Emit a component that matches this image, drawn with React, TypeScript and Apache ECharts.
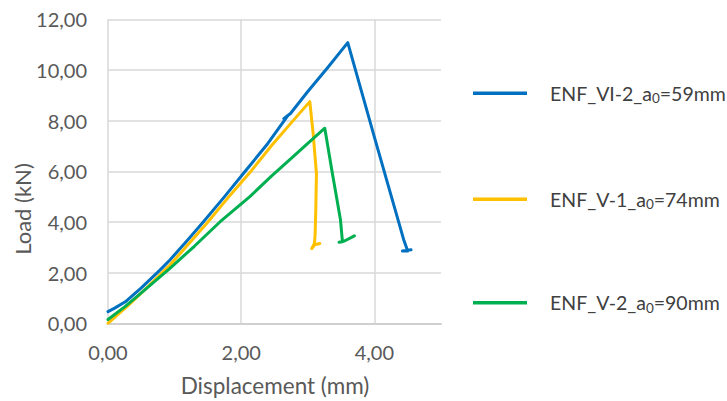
import React, { useEffect, useRef } from "react";
import * as echarts from "echarts";

const seriesNames = ["ENF_VI-2_a0=59mm", "ENF_V-1_a0=74mm", "ENF_V-2_a0=90mm"];
const legendParts = [
  ["ENF_VI-2_a", "0", "=59mm"],
  ["ENF_V-1_a", "0", "=74mm"],
  ["ENF_V-2_a", "0", "=90mm"],
];
const seriesColors = ["#0070C0", "#FFC000", "#00B050"];

const enfVI2 = [
  [0, 0.46], [0.1, 0.6], [0.26, 0.85], [0.5, 1.4], [0.78, 2.1], [0.93, 2.5],
  [1.2, 3.3], [1.43, 4.0], [1.75, 5.0], [2.06, 6.0], [2.4, 7.1], [2.7, 8.2],
  [2.64, 8.08], [2.74, 8.28], [3.0, 9.15], [3.3, 10.1], [3.6, 11.08],
  [4.0, 7.35], [4.44, 3.3], [4.5, 2.85], [4.42, 2.85], [4.55, 2.9],
];
const enfV1 = [
  [0, 0.0], [0.15, 0.35], [0.3, 0.7], [0.6, 1.45], [0.93, 2.3], [1.2, 3.1],
  [1.5, 4.0], [1.8, 4.95], [2.13, 5.95], [2.45, 7.0], [2.78, 8.0],
  [3.03, 8.75], [3.08, 7.5], [3.13, 5.9], [3.12, 4.5], [3.11, 3.5],
  [3.1, 3.15], [3.06, 2.95], [3.1, 3.1], [3.18, 3.15],
];
const enfV2 = [
  [0, 0.15], [0.25, 0.65], [0.5, 1.2], [0.93, 2.17], [1.3, 3.05], [1.68, 4.0],
  [2.13, 5.0], [2.45, 5.8], [2.78, 6.58], [3.0, 7.1], [3.255, 7.7],
  [3.37, 5.9], [3.49, 4.1], [3.52, 3.22], [3.47, 3.2], [3.55, 3.25],
  [3.7, 3.45],
];
const seriesData = [enfVI2, enfV1, enfV2];

const xTitle = "Displacement (mm)";
const yTitle = "Load (kN)";

const FONT = "Lato";
const fmt = (v: number) => v.toFixed(2).replace(".", ",");

export default function App() {
  const ref = useRef<HTMLDivElement>(null);
  useEffect(() => {
    if (!ref.current) return;
    const chart = echarts.init(ref.current, null, { renderer: "svg" });
    const legendCenters = [93.3, 199.3, 302.7];
    chart.setOption({
      animation: false,
      textStyle: { fontFamily: FONT },
      grid: { left: 108, right: 286, top: 19.3, bottom: 77.7, containLabel: false },
      xAxis: {
        type: "value",
        min: 0,
        max: 5,
        interval: 2,
        axisLine: { show: true, onZero: false, lineStyle: { color: "#D0D0D0", width: 2 } },
        axisTick: { show: false },
        splitLine: { show: true, showMaxLine: false, lineStyle: { color: "#D9D9D9", width: 1.5 } },
        axisLabel: {
          showMaxLabel: false,
          formatter: fmt,
          color: "#595959",
          fontSize: 20,
          fontFamily: FONT,
          margin: 19,
        },
      },
      yAxis: {
        type: "value",
        min: 0,
        max: 12,
        interval: 2,
        axisLine: { show: false },
        axisTick: { show: false },
        splitLine: { show: true, lineStyle: { color: "#D9D9D9", width: 1.5 } },
        axisLabel: {
          formatter: fmt,
          color: "#595959",
          fontSize: 20,
          fontFamily: FONT,
          margin: 21,
        },
      },
      legend: seriesNames.map((name, i) => ({
        data: [name],
        left: 473,
        top: legendCenters[i] - 12,
        orient: "vertical",
        padding: 0,
        icon: "rect",
        itemWidth: 54,
        itemHeight: 24,
        itemStyle: { opacity: 0 },
        selectedMode: false,
        formatter: () => `{n|${legendParts[i][0]}}{s|${legendParts[i][1]}}{n|${legendParts[i][2]}}`,
        textStyle: {
          padding: [0, 0, 0, 18],
          rich: {
            n: { fontSize: 19.5, color: "#404040", fontFamily: FONT, lineHeight: 24 },
            s: {
              fontSize: 13.5,
              color: "#404040",
              fontFamily: FONT,
              lineHeight: 24,
              verticalAlign: "bottom",
            },
          },
        },
      })),
      series: seriesNames.map((name, i) => ({
        name,
        type: "line",
        data: seriesData[i],
        showSymbol: false,
        symbol: "none",
        smooth: false,
        color: seriesColors[i],
        lineStyle: { color: seriesColors[i], width: 3, cap: "round", join: "round" },
      })),
      graphic: [
        ...legendCenters.map((c, i) => ({
          type: "rect",
          shape: { x: 473, y: c - 1.75, width: 54, height: 3.5 },
          style: { fill: seriesColors[i] },
        })),
        {
          type: "text",
          x: 275,
          y: 385,
          style: {
            text: xTitle,
            fill: "#595959",
            fontSize: 22.5,
            fontFamily: FONT,
            align: "center",
            verticalAlign: "middle",
          },
        },
        {
          type: "text",
          x: 22,
          y: 209,
          rotation: Math.PI / 2,
          style: {
            text: yTitle,
            fill: "#595959",
            fontSize: 22,
            fontFamily: FONT,
            align: "center",
            verticalAlign: "middle",
          },
        },
      ],
    });
    return () => chart.dispose();
  }, []);
  return (
    <div
      ref={ref}
      style={{ position: "fixed", left: 0, top: 0, width: 727, height: 401, background: "#fff" }}
    />
  );
}
